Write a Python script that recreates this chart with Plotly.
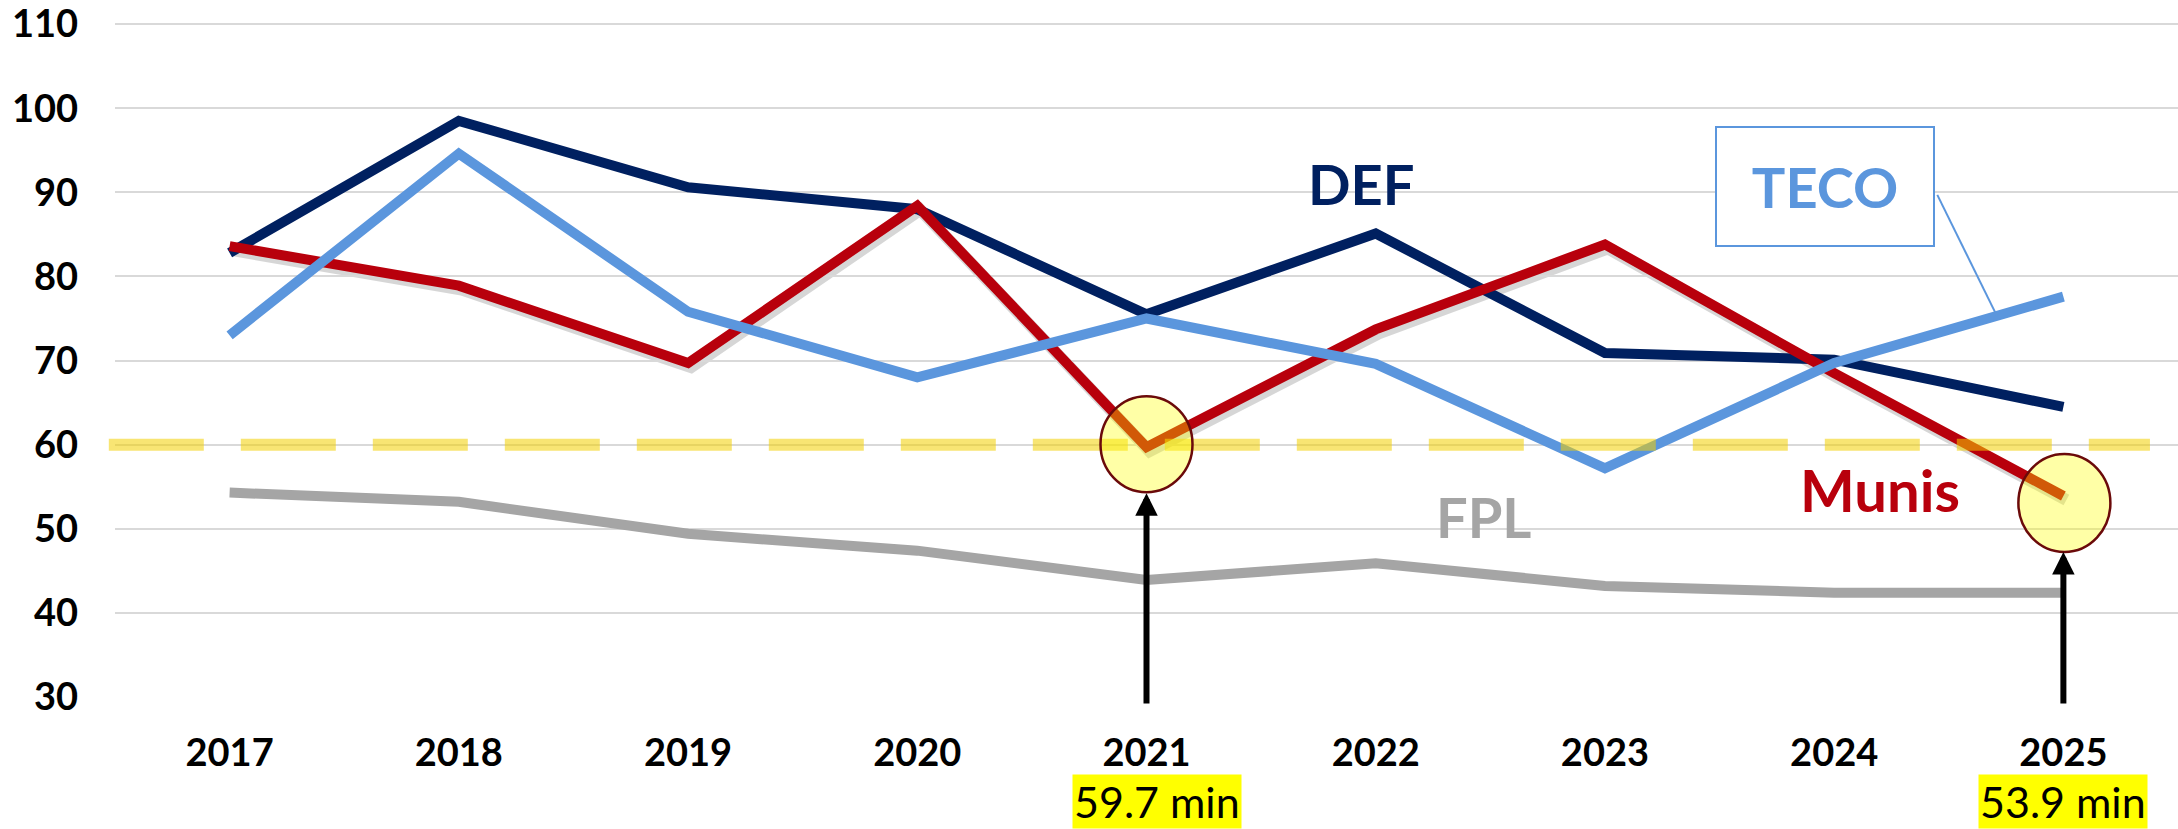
import plotly.graph_objects as go

# ---------------- data ----------------
years = [2017, 2018, 2019, 2020, 2021, 2022, 2023, 2024, 2025]
def_vals = [82.8, 98.5, 90.6, 88.0, 75.5, 85.1, 70.9, 70.1, 64.5]
teco_vals = [73.0, 94.6, 75.8, 68.0, 75.0, 69.6, 57.2, 69.7, 77.6]
munis_vals = [83.6, 78.9, 69.7, 88.4, 59.7, 73.7, 83.8, 68.5, 53.9]
fpl_vals = [54.3, 53.2, 49.4, 47.4, 43.9, 45.9, 43.2, 42.4, 42.4]
y_ticks = [30, 40, 50, 60, 70, 80, 90, 100, 110]
threshold = 60
highlight_idx = [4, 8]  # 2021, 2025

# ---------------- styling ----------------
W, H = 2178, 829
ML, MR, MT, MB = 115, 0, 22, 132
PW, PH = W - ML - MR, H - MT - MB
XR = [years[0] - 0.5, years[-1] + 0.5]
YR = [30 - 0.001, 110 + 0.25]
px_x = PW / (XR[1] - XR[0])
px_y = PH / (YR[1] - YR[0])

C_DEF = "#002060"
C_TECO = "#5B96DD"
C_MUNIS = "#B8000C"
C_FPL = "#A5A5A5"
FONT = "Lato"
LW = 10

fig = go.Figure()

# shadow of the Munis line (drawn on a shifted copy of the axes)
sdx, sdy = 3, 4
fig.add_trace(go.Scatter(x=years, y=munis_vals, mode="lines", xaxis="x", yaxis="y",
                         line=dict(color="rgba(0,0,0,0.16)", width=LW + 2),
                         hoverinfo="skip", showlegend=False))

for name, vals, col in [("FPL", fpl_vals, C_FPL), ("DEF", def_vals, C_DEF),
                        ("Munis", munis_vals, C_MUNIS), ("TECO", teco_vals, C_TECO)]:
    fig.add_trace(go.Scatter(x=years, y=vals, mode="lines", name=name,
                             xaxis="x2", yaxis="y2",
                             line=dict(color=col, width=LW), showlegend=False))

shapes = []
# threshold dashed line
shapes.append(dict(type="line", xref="paper", yref="y2", x0=-0.003, x1=0.9864,
                   y0=threshold, y1=threshold, layer="above",
                   line=dict(color="rgba(242,208,0,0.55)", width=12, dash="95px,37px")))

# highlight ellipses
ell = {4: (-46, 46, -45, 51), 8: (-45, 47, -56, 42)}
for i in highlight_idx:
    x0, x1, y0, y1 = ell[i]
    shapes.append(dict(type="circle", xref="x2", yref="y2",
                       xsizemode="pixel", ysizemode="pixel",
                       xanchor=years[i], yanchor=munis_vals[i],
                       x0=x0, x1=x1, y0=y0, y1=y1, layer="above",
                       fillcolor="rgba(255,255,0,0.35)",
                       line=dict(color="#6B0A0A", width=2.5)))

# TECO callout leader
frac = 0.71
lx1 = years[7] + frac
ly1 = teco_vals[7] + frac * (teco_vals[8] - teco_vals[7])
shapes.append(dict(type="line", xref="x2", yref="y2", x0=2024.45, y0=89.7,
                   x1=lx1, y1=ly1, line=dict(color=C_TECO, width=2), layer="above"))

annotations = []
# arrows
standoffs = {4: 46, 8: 56}
for i in highlight_idx:
    annotations.append(dict(x=years[i], y=munis_vals[i], xref="x2", yref="y2",
                            ax=0, ay=29.05, ayref="y2", axref="pixel", text="",
                            showarrow=True, arrowhead=2, arrowsize=0.75, arrowwidth=6,
                            arrowcolor="black", standoff=standoffs[i]))
# value labels
shifts = {4: 10, 8: 0}
for i in highlight_idx:
    annotations.append(dict(x=years[i], y=-(801 - 697) / PH, xref="x2", yref="paper",
                            text=f"{munis_vals[i]} min", showarrow=False,
                            xshift=shifts[i], xanchor="center", yanchor="middle",
                            bgcolor="#FFFF00", borderpad=1,
                            font=dict(family=FONT, size=43, color="black")))

# series labels
annotations.append(dict(x=2021.94, y=91.1, xref="x2", yref="y2", text="DEF",
                        showarrow=False, font=dict(family=FONT, size=56, color=C_DEF, weight=700)))
annotations.append(dict(x=2022.47, y=51.4, xref="x2", yref="y2", text="FPL",
                        showarrow=False, font=dict(family=FONT, size=56, color=C_FPL, weight=700)))
annotations.append(dict(x=2024.2, y=54.7, xref="x2", yref="y2", text="Munis",
                        showarrow=False, font=dict(family=FONT, size=58, color=C_MUNIS, weight=700)))
annotations.append(dict(x=2023.96, y=90.7, xref="x2", yref="y2", text="TECO",
                        showarrow=False, width=216, height=117, borderpad=0,
                        bordercolor=C_TECO, borderwidth=2, bgcolor="white",
                        align="center", valign="middle",
                        font=dict(family=FONT, size=56, color=C_TECO, weight=700)))

tickfont = dict(family=FONT, size=38, color="black", weight=700)

fig.update_layout(
    width=W, height=H,
    margin=dict(l=ML, r=MR, t=MT, b=MB),
    paper_bgcolor="white", plot_bgcolor="rgba(0,0,0,0)",
    showlegend=False,
    shapes=shapes, annotations=annotations,
    xaxis=dict(domain=[0, 1], range=[XR[0] - sdx / px_x, XR[1] - sdx / px_x],
               visible=False, anchor="y", fixedrange=True),
    yaxis=dict(domain=[0, 1], range=[YR[0] + sdy / px_y, YR[1] + sdy / px_y],
               visible=False, anchor="x", fixedrange=True),
    xaxis2=dict(domain=[0, 1], range=XR, anchor="y2", tickmode="array",
                tickvals=years, ticktext=[str(y) for y in years],
                showgrid=False, zeroline=False, showline=False, ticks="",
                tickfont=tickfont, ticklabelstandoff=30),
    yaxis2=dict(domain=[0, 1], range=YR, anchor="x2", tickmode="linear",
                tick0=y_ticks[0], dtick=y_ticks[1] - y_ticks[0],
                showgrid=True, gridcolor="#D9D9D9", gridwidth=2,
                zeroline=False, showline=False, ticks="",
                ticklabeloverflow="allow",
                tickfont=tickfont, ticklabelstandoff=36),
)

fig.write_html("out.html", config={"displayModeBar": False},
               post_script="document.body.style.margin='0';")
